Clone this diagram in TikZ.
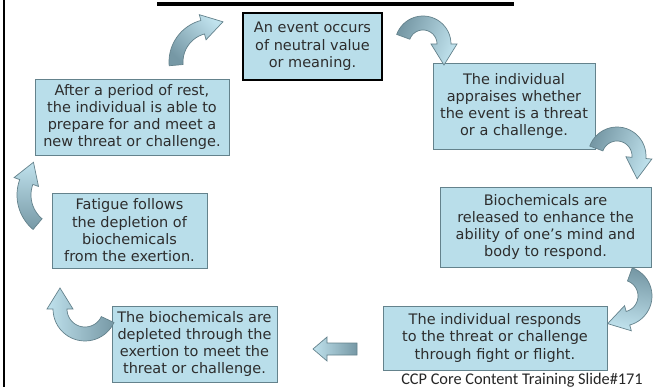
\documentclass[tikz,border=0pt]{standalone}
\usepackage{fontspec}
\setmainfont{DejaVu Sans}
\newfontfamily\footfont{Carlito}
\definecolor{boxfill}{RGB}{185,222,234}
\definecolor{boxline}{RGB}{100,130,140}
\definecolor{textgray}{RGB}{45,45,45}
\definecolor{arrowdark}{RGB}{118,152,165}
\definecolor{arrowlight}{RGB}{192,226,237}
\tikzset{
  stage/.style={draw=boxline, fill=boxfill, text=textgray, align=center,
    inner sep=2pt, font=\fontsize{10.3}{12.3}\selectfont},
  bentarrow/.style={draw=boxline, line width=0.5pt, left color=arrowdark, right color=arrowlight}
}
% curved block arrow: centre x, centre y, radius, start angle, end angle
\newcommand{\bentarrow}[6][]{%
  \pgfmathsetmacro\turn{sign((#6)-(#5))}
  \shadedraw[bentarrow,#1]
    plot[domain=#5:#6,samples=25] ({#2+(#4+7)*cos(\x)},{#3+(#4+7)*sin(\x)})
    -- ({#2+(#4+13)*cos(#6)},{#3+(#4+13)*sin(#6)})
    -- ({#2+#4*cos(#6)-(\turn)*21*sin(#6)},{#3+#4*sin(#6)+(\turn)*21*cos(#6)})
    -- ({#2+(#4-13)*cos(#6)},{#3+(#4-13)*sin(#6)})
    -- plot[domain=#6:#5,samples=25] ({#2+(#4-7)*cos(\x)},{#3+(#4-7)*sin(\x)})
    -- cycle;}
\begin{document}
\begin{tikzpicture}[x=0.025cm,y=-0.025cm]
\useasboundingbox (0,0) rectangle (659,387);
\draw[line width=1.5pt] (4,0) -- (4,387);
\draw[line width=2.2pt] (157,4) -- (514,4);

\node[stage, draw=black, line width=2pt, minimum width=3.475cm, minimum height=1.675cm]
  (event) at (312.5,46.5) {An event occurs\\of neutral value\\or meaning.};
\node[stage, minimum width=4.05cm, minimum height=2.15cm]
  (appraise) at (514,106) {The individual\\appraises whether\\the event is a threat\\or a challenge.};
\node[stage, minimum width=5.275cm, minimum height=2cm]
  (released) at (545.5,227) {Biochemicals are\\released to enhance the\\ability of one’s mind and\\body to respond.};
\node[stage, minimum width=5.6cm, minimum height=1.6cm]
  (responds) at (495,338) {The individual responds\\to the threat or challenge\\through fight or flight.};
\node[stage, minimum width=4.125cm, minimum height=1.9cm]
  (depleted) at (194.5,344) {The biochemicals are\\depleted through the\\exertion to meet the\\threat or challenge.};
\node[stage, minimum width=3.875cm, minimum height=1.875cm]
  (fatigue) at (129.5,230.5) {Fatigue follows\\the depletion of\\biochemicals\\from the exertion.};
\node[stage, minimum width=4.85cm, minimum height=1.9cm]
  (rest) at (132,117) {After a period of rest,\\the individual is able to\\prepare for and meet a\\new threat or challenge.};

\foreach \cx/\cy/\rr/\sa/\ea/\shang in {212/62/36/175/255/135, 423/44/21/200/360/70,
    617/156/22/200/365/70, 622/296/23/-70/75/-10, 85/309/25/25/180/-90, 62/195/38/130/200/180}
  \bentarrow[shading angle=\shang]{\cx}{\cy}{\rr}{\sa}{\ea};
\draw[bentarrow, shading angle=-90] (357,343) -- (327,343) -- (327,337) -- (313,349)
  -- (327,361) -- (327,355) -- (357,355) -- cycle;

\node[font=\footfont\fontsize{11.6}{13}\selectfont, text=black!85, anchor=base, inner sep=0pt]
  (footer) at (522,384.5) {CCP Core Content Training Slide\#171};
\end{tikzpicture}
\end{document}
